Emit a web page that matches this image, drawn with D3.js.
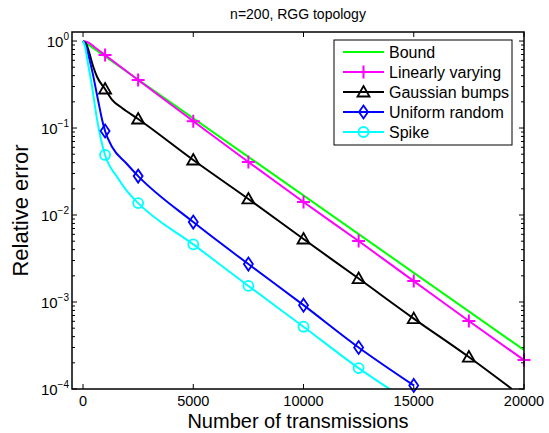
<!DOCTYPE html>
<html>
<head>
<meta charset="utf-8">
<script src="https://cdn.jsdelivr.net/npm/d3@7"></script>
<style>
	body { margin: 0; background: #fff; }
	text { font-family: "Liberation Sans", Arial, sans-serif; fill: #000; }
</style>
</head>
<body>
<svg id="chart"></svg>
<script>
// values
const titleText = 'n=200, RGG topology';
const xLabel = 'Number of transmissions';
const yLabel = 'Relative error';
const xTicks = [0, 5000, 10000, 15000, 20000];
const yExps = [0, -1, -2, -3, -4];
const markerT = [1000, 2500, 5000, 7500, 10000, 12500, 15000, 17500, 20000];

const names = ['Bound', 'Linearly varying', 'Gaussian bumps', 'Uniform random', 'Spike'];
const colors = ['#00ff00', '#ff00ff', '#000000', '#0000ff', '#00ffff'];
const symbols = ['none', 'plus', 'triangle', 'diamond', 'circle'];

const boundT = [0, 20000];
const boundV = [1, 2.81e-4];

const linT = [0, 250, 500, 1000, 2500, 5000, 7500, 10000, 12500, 15000, 17500, 20000];
const linV = [1, 0.96, 0.86, 0.69, 0.356, 0.120, 0.0407, 0.0141, 0.00502, 0.00174, 6.05e-4, 2.15e-4];

const gaussT = [0, 150, 270, 450, 640, 1000, 1320, 1770, 2500, 5000, 7500, 10000, 12500, 15000, 17500, 19450];
const gaussV = [1, 0.92, 0.75, 0.52, 0.386, 0.281, 0.21, 0.17, 0.127, 0.0429, 0.0153, 0.0053, 0.00186, 6.45e-4, 2.33e-4, 1.0e-4];

const unifT = [0, 150, 270, 410, 680, 870, 1000, 1320, 1950, 2500, 5000, 7500, 10000, 12500, 15000];
const unifV = [1, 0.85, 0.65, 0.46, 0.21, 0.123, 0.0924, 0.0605, 0.0396, 0.028, 0.0083, 0.00273, 9.2e-4, 3.0e-4, 1.1e-4];

const spikeT = [0, 100, 200, 410, 640, 820, 1000, 1550, 1950, 2500, 5000, 7500, 10000, 12500, 13900];
const spikeV = [1, 0.85, 0.6, 0.30, 0.124, 0.073, 0.049, 0.0273, 0.0194, 0.0137, 0.0046, 0.00153, 5.2e-4, 1.74e-4, 1.0e-4];

const seriesT = [boundT, linT, gaussT, unifT, spikeT];
const seriesV = [boundV, linV, gaussV, unifV, spikeV];

function makeChart() {
	let w = 549;
	let h = 433;
	let m = { left: 72, right: 25, top: 32, bottom: 44 };

	let chart = d3.select('#chart')
		.attr('width', w)
		.attr('height', h);

	let x = d3.scaleLinear().domain([-500, 20000]).range([m.left, w - m.right]);
	let y = d3.scaleLog().domain([1e-4, 1.27]).range([h - m.bottom, m.top]);

	let x0 = x.range()[0], x1 = x.range()[1];
	let y0 = y.range()[0], y1 = y.range()[1];

	chart.append('defs').append('clipPath').attr('id', 'clip')
		.append('rect')
		.attr('x', x0).attr('y', y1)
		.attr('width', x1 - x0).attr('height', y0 - y1);

	// ticks, inward on all four sides
	let g = chart.append('g').attr('stroke', '#000').attr('stroke-width', 1);
	xTicks.forEach(t => {
		g.append('line').attr('x1', x(t)).attr('x2', x(t)).attr('y1', y0).attr('y2', y0 - 5);
		g.append('line').attr('x1', x(t)).attr('x2', x(t)).attr('y1', y1).attr('y2', y1 + 5);
	});
	let minor = [];
	yExps.forEach(e => {
		for (let k = 1; k <= 9; k++) {
			let v = k * Math.pow(10, e);
			if (v >= 1e-4 && v <= 1.27) minor.push({ v: v, major: k === 1 });
		}
	});
	minor.forEach(d => {
		let len = d.major ? 5 : 3;
		g.append('line').attr('x1', x0).attr('x2', x0 + len).attr('y1', y(d.v)).attr('y2', y(d.v));
		g.append('line').attr('x1', x1).attr('x2', x1 - len).attr('y1', y(d.v)).attr('y2', y(d.v));
	});

	// tick labels
	chart.selectAll('.xt')
		.data(xTicks)
		.enter()
		.append('text')
		.attr('x', d => x(d))
		.attr('y', y0 + 16.5)
		.style('font-size', '14.5px')
		.style('text-anchor', 'middle')
		.text(d => d);

	let yt = chart.selectAll('.yt')
		.data(yExps)
		.enter()
		.append('text')
		.attr('x', x0 - 3)
		.attr('y', d => y(Math.pow(10, d)) + 6)
		.style('font-size', '15px')
		.style('text-anchor', 'end');
	yt.append('tspan').text('10');
	yt.append('tspan')
		.attr('dy', -7)
		.style('font-size', '10px')
		.text(d => d === 0 ? '0' : '\u2212' + (-d));

	// curves
	let line = d3.line()
		.x(d => x(d[0]))
		.y(d => y(d[1]))
		.curve(d3.curveMonotoneX);

	let plot = chart.append('g').attr('clip-path', 'url(#clip)');

	names.forEach((name, i) => {
		let pts = seriesT[i].map((t, j) => [t, seriesV[i][j]]);
		plot.append('path')
			.datum(pts)
			.attr('fill', 'none')
			.attr('stroke', colors[i])
			.attr('stroke-width', 2)
			.attr('d', line);
	});

	names.forEach((name, i) => {
		if (symbols[i] === 'none') return;
		let pts = seriesT[i].map((t, j) => [t, seriesV[i][j]]).filter(d => markerT.includes(d[0]));
		pts.forEach(d => drawMarker(chart, symbols[i], x(d[0]), y(d[1]), colors[i]));
	});

	// axes box
	chart.append('rect')
		.attr('x', x0).attr('y', y1)
		.attr('width', x1 - x0).attr('height', y0 - y1)
		.attr('fill', 'none')
		.attr('stroke', '#000')
		.attr('stroke-width', 1.5);

	// title and axis labels
	chart.append('text')
		.attr('x', (x0 + x1) / 2)
		.attr('y', 19)
		.style('font-size', '14px')
		.style('text-anchor', 'middle')
		.text(titleText);

	chart.append('text')
		.attr('x', (x0 + x1) / 2)
		.attr('y', 428)
		.style('font-size', '20px')
		.style('text-anchor', 'middle')
		.text(xLabel);

	chart.append('text')
		.attr('transform', 'translate(28,' + ((y0 + y1) / 2) + ') rotate(-90)')
		.style('font-size', '22px')
		.style('text-anchor', 'middle')
		.text(yLabel);

	// legend
	let lg = chart.append('g');
	lg.append('rect')
		.attr('x', 334).attr('y', 40)
		.attr('width', 178).attr('height', 105)
		.attr('fill', '#fff')
		.attr('stroke', '#000')
		.attr('stroke-width', 1);
	names.forEach((name, i) => {
		let ly = 52 + i * 20;
		lg.append('line')
			.attr('x1', 343).attr('x2', 384)
			.attr('y1', ly).attr('y2', ly)
			.attr('stroke', colors[i])
			.attr('stroke-width', 2);
		if (symbols[i] !== 'none') drawMarker(lg, symbols[i], 363.5, ly, colors[i]);
		lg.append('text')
			.attr('x', 389)
			.attr('y', ly + 6)
			.style('font-size', '16px')
			.text(name);
	});
}

function drawMarker(sel, sym, cx, cy, col) {
	if (sym === 'plus') {
		let s = 6.5;
		sel.append('path')
			.attr('d', `M${cx - s},${cy}H${cx + s}M${cx},${cy - s}V${cy + s}`)
			.attr('stroke', col).attr('stroke-width', 2).attr('fill', 'none');
	} else if (sym === 'triangle') {
		sel.append('path')
			.attr('d', `M${cx},${cy - 6}L${cx + 6},${cy + 4.5}L${cx - 6},${cy + 4.5}Z`)
			.attr('stroke', col).attr('stroke-width', 1.8).attr('fill', 'none');
	} else if (sym === 'diamond') {
		sel.append('path')
			.attr('d', `M${cx},${cy - 6.5}L${cx + 4.5},${cy}L${cx},${cy + 6.5}L${cx - 4.5},${cy}Z`)
			.attr('stroke', col).attr('stroke-width', 1.8).attr('fill', 'none');
	} else if (sym === 'circle') {
		sel.append('circle')
			.attr('cx', cx).attr('cy', cy).attr('r', 5)
			.attr('stroke', col).attr('stroke-width', 1.8).attr('fill', 'none');
	}
}

window.onload = function () {
	makeChart();
}
</script>
</body>
</html>
